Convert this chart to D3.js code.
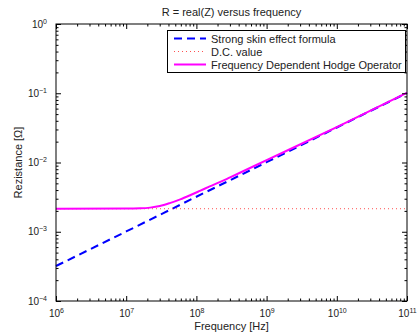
<!DOCTYPE html>
<html>
<head>
<meta charset="utf-8">
<script src="https://cdn.jsdelivr.net/npm/d3@7"></script>
<style>
  body { margin: 0; background: #fff; }
  text { font-family: "Liberation Sans", Arial, sans-serif; fill: #222; }
</style>
</head>
<body>
<script>
const w = 418;
const h = 335;
const margin = { top: 24, right: 11, bottom: 34, left: 56 };

// data
const skinFreq = [1e6, 1e7, 1e8, 1e9, 1e10, 1e11];
const skinR = [3.2e-4, 1.01e-3, 3.2e-3, 1.01e-2, 3.2e-2, 1.01e-1];

const dcFreq = [1e6, 1e11];
const dcR = [2.15e-3, 2.15e-3];

const hodgeFreq = [1e6, 1e7, 1.58e7, 2.19e7, 3.02e7, 4.17e7, 5.89e7, 8.13e7,
  1.12e8, 1.55e8, 2.19e8, 3.02e8, 4.17e8, 1e9, 1e10, 1e11];
const hodgeR = [2.15e-3, 2.16e-3, 2.18e-3, 2.23e-3, 2.35e-3, 2.59e-3, 2.94e-3, 3.37e-3,
  3.89e-3, 4.51e-3, 5.24e-3, 6.10e-3, 7.11e-3, 1.08e-2, 3.25e-2, 1.017e-1];

const xTicks = [1e6, 1e7, 1e8, 1e9, 1e10, 1e11];
const yTicks = [1e-4, 1e-3, 1e-2, 1e-1, 1e0];

const series = [
  { name: 'Strong skin effect formula', f: skinFreq, r: skinR, color: '#0000ff', width: 2, dash: '8,5' },
  { name: 'D.C. value', f: dcFreq, r: dcR, color: '#ff5050', width: 1, dash: '1,3' },
  { name: 'Frequency Dependent Hodge Operator', f: hodgeFreq, r: hodgeR, color: '#ff00ff', width: 2, dash: null },
];

const svg = d3.select('body').append('svg').attr('width', w).attr('height', h);

const x = d3.scaleLog().domain([1e6, 1e11]).range([margin.left, w - margin.right]);
const y = d3.scaleLog().domain([1e-4, 1e0]).range([h - margin.bottom, margin.top]);

// minor tick values
const minor = (lo, hi) => {
  const out = [];
  for (let e = lo; e < hi; e++) for (let k = 2; k <= 9; k++) out.push(k * Math.pow(10, e));
  return out;
};
const xMinor = minor(6, 11);
const yMinor = minor(-4, 0);

const sup = (sel) => {
  sel.selectAll('.tick text').each(function (d) {
    const t = d3.select(this);
    const e = Math.round(Math.log10(d));
    t.text('10');
    t.append('tspan').attr('dy', '-0.6em').attr('font-size', '7px').text(e === 0 ? '0' : String(e).replace('-', '\u2212'));
  });
};

const x0 = margin.left, x1 = w - margin.right, y0 = h - margin.bottom, y1 = margin.top;

// lines
const line = d3.line().x((d) => x(d[0])).y((d) => y(d[1])).curve(d3.curveMonotoneX);
const plot = svg.append('g');
series.forEach((s) => {
  plot.append('path')
    .datum(s.f.map((f, i) => [f, s.r[i]]))
    .attr('d', line)
    .attr('fill', 'none')
    .attr('stroke', s.color)
    .attr('stroke-width', s.width)
    .attr('stroke-dasharray', s.dash);
});

// axes, ticks inward on all sides
const axisStyle = (g) => {
  g.select('.domain').remove();
  g.selectAll('.tick line').attr('stroke', '#000');
  g.selectAll('.tick text').attr('font-size', '10px').attr('fill', '#222');
};

svg.append('g').attr('transform', `translate(0,${y0})`)
  .call(d3.axisBottom(x).tickValues(xTicks).tickSize(-5).tickPadding(9))
  .call(axisStyle).call(sup);
svg.append('g').attr('transform', `translate(0,${y0})`)
  .call(d3.axisBottom(x).tickValues(xMinor).tickSize(-2.5).tickFormat(''))
  .call(axisStyle);
svg.append('g').attr('transform', `translate(0,${y1})`)
  .call(d3.axisTop(x).tickValues(xTicks).tickSize(-5).tickFormat(''))
  .call(axisStyle);
svg.append('g').attr('transform', `translate(0,${y1})`)
  .call(d3.axisTop(x).tickValues(xMinor).tickSize(-2.5).tickFormat(''))
  .call(axisStyle);

svg.append('g').attr('transform', `translate(${x0},0)`)
  .call(d3.axisLeft(y).tickValues(yTicks).tickSize(-5).tickPadding(9))
  .call(axisStyle).call(sup);
svg.append('g').attr('transform', `translate(${x0},0)`)
  .call(d3.axisLeft(y).tickValues(yMinor).tickSize(-2.5).tickFormat(''))
  .call(axisStyle);
svg.append('g').attr('transform', `translate(${x1},0)`)
  .call(d3.axisRight(y).tickValues(yTicks).tickSize(-5).tickFormat(''))
  .call(axisStyle);
svg.append('g').attr('transform', `translate(${x1},0)`)
  .call(d3.axisRight(y).tickValues(yMinor).tickSize(-2.5).tickFormat(''))
  .call(axisStyle);

svg.append('rect')
  .attr('x', x0).attr('y', y1)
  .attr('width', x1 - x0).attr('height', y0 - y1)
  .attr('fill', 'none').attr('stroke', '#000').attr('stroke-width', 1);

// title and labels
svg.append('text')
  .attr('x', (x0 + x1) / 2).attr('y', 16)
  .attr('text-anchor', 'middle').attr('font-size', '11px')
  .text('R = real(Z) versus frequency');
svg.append('text')
  .attr('x', (x0 + x1) / 2).attr('y', 330)
  .attr('text-anchor', 'middle').attr('font-size', '11px')
  .text('Frequency [Hz]');
svg.append('text')
  .attr('transform', `translate(22,${(y0 + y1) / 2}) rotate(-90)`)
  .attr('text-anchor', 'middle').attr('font-size', '11px')
  .text('Rezistance [\u03a9]');

// legend
const legend = svg.append('g').attr('id', 'legend');
legend.append('rect')
  .attr('x', 167.5).attr('y', 30.5).attr('width', 238).attr('height', 42)
  .attr('fill', '#fff').attr('stroke', '#000').attr('stroke-width', 1);
series.forEach((s, i) => {
  const ly = 38.5 + i * 13;
  legend.append('line')
    .attr('x1', 174).attr('x2', 206).attr('y1', ly).attr('y2', ly)
    .attr('stroke', s.color).attr('stroke-width', s.width)
    .attr('stroke-dasharray', s.dash);
  legend.append('text')
    .attr('x', 211).attr('y', ly + 4)
    .attr('font-size', '11px')
    .text(s.name);
});
</script>
</body>
</html>
